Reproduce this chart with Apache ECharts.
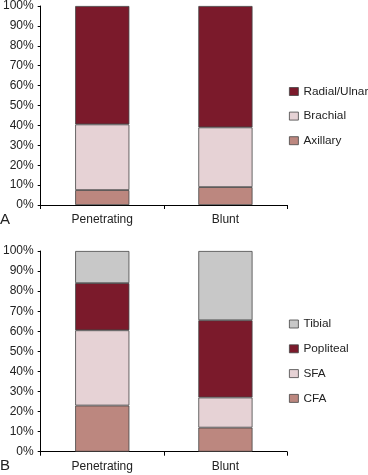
<!DOCTYPE html>
<html><head><meta charset="utf-8">
<script src="https://cdn.jsdelivr.net/npm/echarts@6/dist/echarts.min.js"></script>
<style>html,body{margin:0;padding:0;background:#fff}#c{width:368px;height:475px}</style>
</head><body><div id="c"></div>
<script>
var categories = ['Penetrating', 'Blunt'];
var yTicks = [0,10,20,30,40,50,60,70,80,90,100];
// Panel A (upper extremity)
var axillary = [7.5, 9];
var brachial = [33, 30];
var radialUlnar = [59.5, 61];
// Panel B (lower extremity)
var cfa = [23, 12];
var sfa = [37.5, 15];
var popliteal = [23.5, 38.5];
var tibial = [16, 34.5];

var cDark = '#7b1a2b', cPink = '#e6d2d5', cRose = '#bc877f', cGray = '#c8c8c8';
var font = 'Liberation Sans, Arial, sans-serif';
var chart = echarts.init(document.getElementById('c'));
function xAx(gi){return {type:'category', gridIndex:gi, data:categories,
  axisLine:{lineStyle:{color:'#000',width:1}}, axisTick:{show:true,length:4,lineStyle:{color:'#000'}},
  axisLabel:{color:'#222',fontSize:12,fontFamily:font,margin:9}};}
function yAx(gi){return {type:'value', gridIndex:gi, min:0, max:100, interval:10,
  axisLine:{show:true,lineStyle:{color:'#000',width:1}}, axisTick:{show:true,length:3,lineStyle:{color:'#000'}},
  splitLine:{show:false}, axisLabel:{color:'#222',fontSize:12,fontFamily:font,margin:7,formatter:'{value}%'}};}
function bar(name, data, color, gi, stack){return {name:name,type:'bar',stack:stack,xAxisIndex:gi,yAxisIndex:gi,
  data:data,barWidth:'44%',itemStyle:{color:color,borderColor:'#444',borderWidth:0.8}};}
chart.setOption({
  animation:false,
  grid:[{left:39,right:81,top:5.5,bottom:270},{left:39,right:81,top:251,bottom:23.3}],
  xAxis:[xAx(0),xAx(1)],
  yAxis:[yAx(0),yAx(1)],
  legend:[
    {orient:'vertical',left:289,top:80.5,padding:[5,0,5,0],itemWidth:9,itemHeight:8,itemGap:12.6,icon:'rect',
     itemStyle:{borderColor:'#444',borderWidth:0.8},
     textStyle:{fontSize:11.8,fontFamily:font,color:'#222'},
     data:['Radial/Ulnar','Brachial','Axillary']},
    {orient:'vertical',left:289,top:313,padding:[5,0,5,0],itemWidth:9,itemHeight:8,itemGap:12.8,icon:'rect',
     itemStyle:{borderColor:'#444',borderWidth:0.8},
     textStyle:{fontSize:11.8,fontFamily:font,color:'#222'},
     data:['Tibial','Popliteal','SFA','CFA']}
  ],
  series:[
    bar('Axillary',axillary,cRose,0,'a'),
    bar('Brachial',brachial,cPink,0,'a'),
    bar('Radial/Ulnar',radialUlnar,cDark,0,'a'),
    bar('CFA',cfa,cRose,1,'b'),
    bar('SFA',sfa,cPink,1,'b'),
    bar('Popliteal',popliteal,cDark,1,'b'),
    bar('Tibial',tibial,cGray,1,'b')
  ],
  graphic:[
    {type:'text',left:0,top:212,style:{text:'A',font:'15px '+font,fill:'#222'}},
    {type:'text',left:0,top:458,style:{text:'B',font:'15px '+font,fill:'#222'}}
  ]
});
</script></body></html>
